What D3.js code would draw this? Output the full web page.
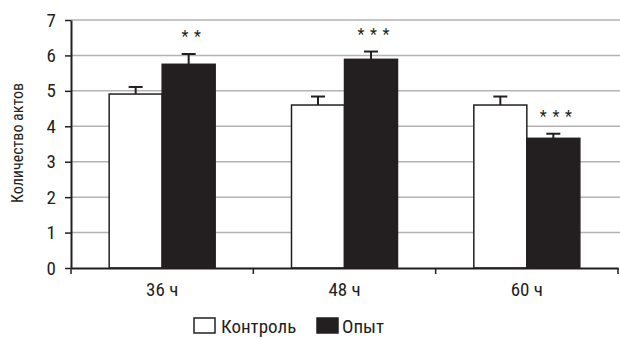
<!DOCTYPE html>
<html>
<head>
<meta charset="utf-8">
<script src="https://cdn.jsdelivr.net/npm/d3@7"></script>
<style>
  body { margin: 0; background: #fff; }
  text { font-family: "Liberation Sans Narrow", "Roboto Condensed", "Arial Narrow", sans-serif; fill: #231f20; }
</style>
</head>
<body>
<svg id="mainSvg" width="620" height="338"></svg>
<script>
// данные
const categories = ["36 ч", "48 ч", "60 ч"];
const seriesNames = ["Контроль", "Опыт"];
const controlValues = [4.91, 4.6, 4.6];
const controlErrors = [0.2, 0.24, 0.24];
const opytValues = [5.75, 5.89, 3.66];
const opytErrors = [0.29, 0.22, 0.13];
const stars = ["* *", "* * *", "* * *"];
const yTicks = [0, 1, 2, 3, 4, 5, 6, 7];

let svg = d3.select('#mainSvg');
const margin = { left: 71, right: 2, top: 20, bottom: 70 };
const width = +svg.attr('width'), height = +svg.attr('height');
const ink = "#231f20";

const x = d3.scaleBand().domain(categories).range([margin.left, width - margin.right]);
const y = d3.scaleLinear().domain([0, 7]).range([height - margin.bottom, margin.top]);
const xs = d3.scaleBand().domain(seriesNames).range([0, x.bandwidth()]).paddingOuter(0.72).paddingInner(0);

// сетка
svg.append("g").selectAll("line").data(yTicks.filter(d => d > 0)).join("line")
    .attr("x1", margin.left).attr("x2", width)
    .attr("y1", d => y(d)).attr("y2", d => y(d))
    .attr("stroke", "#b3b3b3").attr("stroke-width", 1.5);

const rows = categories.map((c, i) => ({
    cat: c,
    bars: [
        { s: seriesNames[0], v: controlValues[i], e: controlErrors[i] },
        { s: seriesNames[1], v: opytValues[i], e: opytErrors[i] }
    ],
    star: stars[i]
}));

const groups = svg.append("g").selectAll("g").data(rows).join("g")
    .attr("transform", d => `translate(${x(d.cat)},0)`);

const bars = groups.selectAll("g.bar").data(d => d.bars).join("g").attr("class", "bar");

// усы ошибок
bars.append("line")
    .attr("x1", d => xs(d.s) + xs.bandwidth() / 2).attr("x2", d => xs(d.s) + xs.bandwidth() / 2)
    .attr("y1", d => y(d.v)).attr("y2", d => y(d.v + d.e))
    .attr("stroke", ink).attr("stroke-width", 2);
bars.append("line")
    .attr("x1", d => xs(d.s) + xs.bandwidth() / 2 - 7).attr("x2", d => xs(d.s) + xs.bandwidth() / 2 + 7)
    .attr("y1", d => y(d.v + d.e)).attr("y2", d => y(d.v + d.e))
    .attr("stroke", ink).attr("stroke-width", 2);

bars.append("rect")
    .attr("x", d => xs(d.s))
    .attr("y", d => y(d.v))
    .attr("width", xs.bandwidth())
    .attr("height", d => y(0) - y(d.v))
    .attr("fill", d => d.s === seriesNames[0] ? "#fff" : ink)
    .attr("stroke", ink).attr("stroke-width", 1.5);

// звездочки
groups.append("text")
    .attr("x", xs(seriesNames[1]) + xs.bandwidth() / 2 + 3)
    .attr("y", d => y(d.bars[1].v + d.bars[1].e) - 12)
    .attr("text-anchor", "middle")
    .attr("font-size", "16px")
    .attr("letter-spacing", "1px")
    .text(d => d.star);

// оси
const yAxis = svg.append("g")
    .attr("transform", `translate(${margin.left},0)`)
    .call(d3.axisLeft(y).tickValues(yTicks).tickFormat(d3.format("d")).tickSize(6).tickSizeOuter(0).tickPadding(9));
yAxis.select(".domain").attr("stroke", ink).attr("stroke-width", 2);
yAxis.selectAll(".tick line").attr("stroke", ink).attr("stroke-width", 1.5);
yAxis.selectAll(".tick text").attr("font-size", "19px").attr("font-family", null).attr("fill", ink);

const xAxis = svg.append("g")
    .attr("transform", `translate(0,${y(0)})`)
    .call(d3.axisBottom(x).tickSize(0).tickPadding(15));
xAxis.select(".domain").attr("stroke", ink).attr("stroke-width", 2);
xAxis.selectAll(".tick text").attr("font-size", "19px").attr("font-family", null).attr("fill", ink);
svg.append("g").selectAll("line").data(categories.concat(["end"])).join("line")
    .attr("x1", (d, i) => margin.left + i * x.step()).attr("x2", (d, i) => margin.left + i * x.step())
    .attr("y1", y(0)).attr("y2", y(0) + 6)
    .attr("stroke", ink).attr("stroke-width", 1.5);

svg.append("text")
    .attr("transform", `translate(23,${(y(0) + y(7)) / 2 - 1}) rotate(-90)`)
    .attr("text-anchor", "middle")
    .attr("font-size", "16px")
    .text("Количество актов");

// легенда
const legendX = [194, 317];
const legend = svg.append("g").selectAll("g").data(seriesNames).join("g")
    .attr("transform", (d, i) => `translate(${legendX[i]},318)`);
legend.append("rect")
    .attr("width", 21).attr("height", 15)
    .attr("fill", (d, i) => i === 0 ? "#fff" : ink)
    .attr("stroke", ink).attr("stroke-width", 1.5);
legend.append("text")
    .attr("x", (d, i) => i === 0 ? 27 : 25).attr("y", 15)
    .attr("font-size", "19px")
    .text(d => d);
</script>
</body>
</html>
